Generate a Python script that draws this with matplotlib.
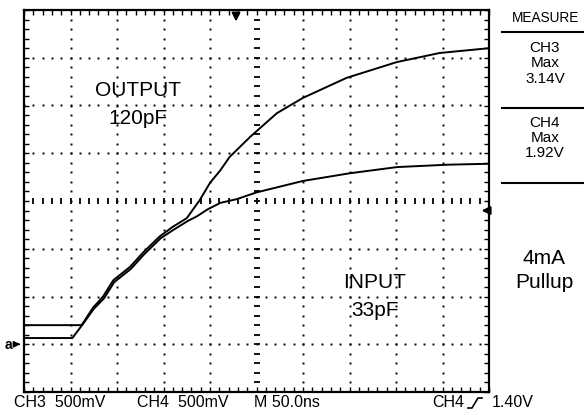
import numpy as np
import matplotlib.pyplot as plt

'''Trace data read off the scope (time in ns, volts)'''
# CH3 = output, 120pF
out_t = [0, 62, 74, 85, 96, 114, 128, 146, 160, 175, 189, 200, 211, 221, 243, 272, 300, 347, 401, 447, 500]
out_v = [0.20, 0.20, 0.38, 0.50, 0.67, 0.81, 0.96, 1.13, 1.23, 1.32, 1.51, 1.69, 1.82, 1.96, 2.17, 2.42, 2.58, 2.79, 2.955, 3.05, 3.10]
# CH4 = input, 33pF
in_t = [0, 52, 64, 75, 86, 97, 115, 129, 147, 161, 176, 186, 197, 211, 229, 250, 300, 350, 401, 455, 500]
in_v = [0.065, 0.065, 0.22, 0.37, 0.48, 0.65, 0.79, 0.94, 1.11, 1.20, 1.29, 1.34, 1.41, 1.48, 1.52, 1.59, 1.71, 1.79, 1.855, 1.88, 1.89]

ground = 0.0
trig_level = 1.40
trig_time = 228

bottom_labels = ["CH3  500mV", "CH4  500mV", "M 50.0ns"]
measure_lines = ["CH3", "Max", "3.14V", "CH4", "Max", "1.92V"]

W, H = 584, 415
fig = plt.figure(figsize=(W / 100, H / 100), dpi=100)
fig.patch.set_facecolor("white")

def fx(x):
    return x / W

def fy(y):
    return 1 - y / H

# screen: 10 div x 50ns, 8 div x 0.5V
ax = fig.add_axes([fx(24), fy(392), (489 - 24) / W, (392 - 10) / H])
ax.set_xlim(0, 500)
ax.set_ylim(-0.5, 3.5)
for s in ax.spines.values():
    s.set_linewidth(1.6)

ax.set_xticks(np.arange(0, 501, 10))
ax.set_yticks(np.arange(-0.5, 3.51, 0.1))
ax.tick_params(direction="in", length=3.5, width=1.0, top=True, right=True,
               labelbottom=False, labelleft=False)

# dotted graticule
minor_t = np.arange(0, 501, 10)
minor_v = np.arange(-0.5, 3.51, 0.1)
for t in np.arange(50, 500, 50):
    if t == 250:
        ax.plot([t] * len(minor_v), minor_v, ls="none", marker="_", ms=5, mew=1.3, color="k")
    else:
        ax.plot([t] * len(minor_v), minor_v, ls="none", marker="s", ms=1.4, mew=0, color="k")
for v in np.arange(0.0, 3.5, 0.5):
    if abs(v - 1.5) < 1e-6:
        ax.plot(minor_t, [v] * len(minor_t), ls="none", marker="|", ms=5, mew=1.3, color="k")
    else:
        ax.plot(minor_t, [v] * len(minor_t), ls="none", marker="s", ms=1.4, mew=0, color="k")

# traces
ax.plot(out_t, out_v, color="k", lw=1.4)
ax.plot(in_t, in_v, color="k", lw=1.4)

# markers: trigger position, trigger level, ground
ax.annotate("", xy=(trig_time, 3.35), xytext=(trig_time, 3.5),
            arrowprops=dict(arrowstyle="-|>", color="k", lw=1.5, mutation_scale=12),
            annotation_clip=False)
ax.annotate("", xy=(489, trig_level), xytext=(500, trig_level),
            arrowprops=dict(arrowstyle="-|>", color="k", lw=1.5, mutation_scale=12),
            annotation_clip=False)
ax.annotate("", xy=(-1, ground), xytext=(-9, ground),
            arrowprops=dict(arrowstyle="-|>", color="k", lw=1.2, mutation_scale=9),
            annotation_clip=False)
fig.text(fx(8), fy(345), "a", fontsize=10, fontweight="bold", ha="center", va="center",
         family="Liberation Sans")

# labels on the screen
big = dict(fontsize=15, ha="center", va="center", family="Liberation Sans")
fig.text(fx(138), fy(91), "OUTPUT", **big)
fig.text(fx(138), fy(118), "120pF", **big)
fig.text(fx(375), fy(282), "INPUT", **big)
fig.text(fx(375), fy(310), "33pF", **big)

# bottom status line
low = dict(fontsize=11.5, ha="left", va="center", family="Liberation Sans")
for x, s in zip([14, 137, 254], bottom_labels):
    fig.text(fx(x), fy(402), s, **low)
fig.text(fx(432), fy(402), "CH4", **low)
fig.text(fx(492), fy(402), "1.40V", **low)
fig.add_artist(plt.Line2D([fx(468), fx(472), fx(478), fx(482)],
                          [fy(408), fy(408), fy(398), fy(398)],
                          color="k", lw=1.2, transform=fig.transFigure))

# measure panel
panel = dict(fontsize=11, ha="center", va="center", family="Liberation Sans")
fig.text(fx(546), fy(18), "MEASURE", fontsize=9.8, ha="center", va="center",
         family="Liberation Sans")
for y, s in zip([48, 63, 79, 123, 138, 153], measure_lines):
    fig.text(fx(545), fy(y), s, **panel)
for y in [32, 108, 183]:
    fig.add_artist(plt.Line2D([fx(502), fx(584)], [fy(y), fy(y)], color="k", lw=1.5,
                              transform=fig.transFigure))
fig.text(fx(544), fy(258), "4mA", **big)
fig.text(fx(544), fy(283), "Pullup", **big)

fig.savefig("out.png", dpi=100)
